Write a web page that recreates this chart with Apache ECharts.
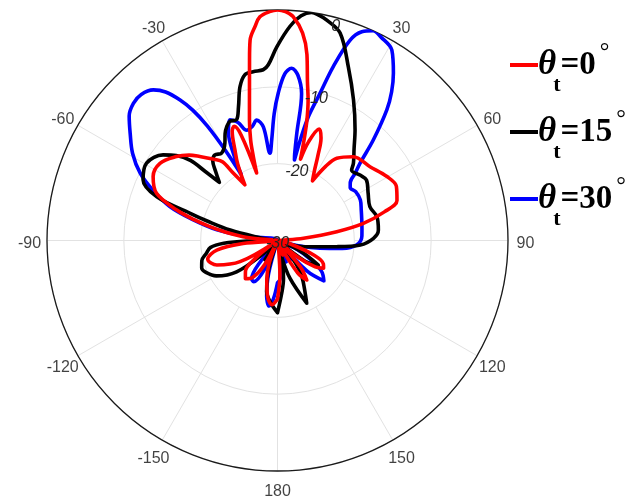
<!DOCTYPE html>
<html>
<head>
<meta charset="utf-8">
<script src="https://cdn.jsdelivr.net/npm/echarts@6/dist/echarts.min.js"></script>
<style>html,body{margin:0;padding:0;background:#fff}#c{width:643px;height:501px}</style>
</head>
<body>
<div id="c"></div>
<script>
// ---- data (angle in degrees, gain in dB) ----
const seriesNames = ['θt=0°', 'θt=15°', 'θt=30°'];
const steerLabels = ['0', '15', '30'];
const angleTicks = [-150, -120, -90, -60, -30, 0, 30, 60, 90, 120, 150, 180];
const radialTicks = [-30, -20, -10, 0];

const redAngle = [-180,-175,-170,-165,-160,-156,-152,-146,-140,-134,-129,-124,-119.5,-112,-105,-99,-95,-92,-88,-85,-83.7,-81,-78.4,-76,-73.2,-68.7,-62.8,-56.7,-50.3,-46,-42.8,-38,-35,-33.3,-30.4,-27.5,-25.2,-22.5,-20.8,-19,-17.2,-16,-15,-13.1,-11.7,-10.4,-8.8,-7.8,-6,-4.5,-2,0,2,4,6.9,9,10.7,12.3,13.8,14.8,15.8,17.5,20.5,23,25.5,28,30.4,33,35.8,42.1,51.4,59.7,65.5,71.5,75,78.7,81.5,85,88,90,100,106,112,117,121,125,129,134,139,143.5,148,153,160,166,172,176,180];
const redDb = [-22.4,-21.6,-22.6,-24.6,-26.8,-30,-26.5,-24.2,-23.5,-24.2,-26.3,-29.5,-24.4,-21.5,-20.6,-22.0,-25.5,-30,-30,-27.5,-25.5,-23.2,-21.0,-18.8,-16.3,-13.1,-11.8,-11.7,-12.9,-14.0,-15.1,-16.6,-17.5,-19.5,-21.6,-18.8,-17.0,-14.6,-14.1,-15.5,-20.8,-18.5,-16.5,-13.9,-12.0,-9.8,-6.2,-3.7,-2.0,-0.8,-0.2,0,-0.2,-0.8,-2.8,-5.5,-9,-11.3,-14,-16.5,-19.0,-16.5,-14.5,-15.5,-17.8,-19.8,-21.0,-18.5,-16.8,-15.3,-14.6,-13.5,-13.0,-13.6,-15.6,-18.6,-22.2,-26.6,-29.5,-30,-30,-28,-24.8,-23.3,-23.0,-24,-26.5,-30,-25.5,-23.6,-25,-29,-28,-30,-29,-25.5,-22.4];

const blackAngle = [-180,-174,-168,-163,-158,-153,-147,-142,-137,-133,-127.4,-120,-114,-110,-105,-100.2,-96,-93,-91,-89,-85,-82,-77.5,-74.5,-72.7,-70.1,-65.7,-59.4,-53.2,-50,-47.4,-46.3,-45,-42,-39,-36.2,-32.6,-28.4,-26.1,-24.1,-21.8,-18.7,-16.3,-13.7,-11.1,-8.2,-4.8,-3.0,-0.2,3.3,6,8.5,10.5,12.6,16.8,22.2,28.4,35.0,40,44.5,46.5,51.6,55.8,62.5,69.9,76.5,84.1,88.7,93.1,96,103.5,108,114,121,127,133,140,144,148,155,161.7,166,171,175,180];
const blackDb = [-20.6,-21.8,-23.2,-26,-30,-30,-27,-30,-30,-27.5,-23.3,-20.8,-19.8,-19.5,-19.8,-20.6,-21.2,-23,-26,-30,-29,-28,-23.7,-20.5,-18.1,-13.3,-10.8,-10.2,-11.4,-12.8,-14.6,-17.0,-19.3,-18,-16.6,-16.2,-16.5,-15.6,-14.5,-13.8,-13.3,-13.4,-11.9,-9.4,-8.0,-7.8,-7.7,-7.1,-4.8,-2.1,-0.6,0,-0.2,-0.6,-1.8,-5.6,-9.2,-12.4,-14.5,-15.9,-16.7,-16.3,-16.0,-16.7,-17.2,-16.7,-16.8,-17.5,-19.2,-22.3,-26.5,-30,-27,-23.8,-25.5,-30,-27,-25,-23.7,-21.0,-24.8,-28,-25,-23.3,-20.6];

const blueAngle = [-180,-176,-172.7,-169,-165,-161,-156,-150,-146,-141,-137,-92,-86,-82.5,-80,-76,-72.5,-68,-63.9,-59,-54,-50,-46.4,-43,-39.5,-37,-34.8,-33,-31.5,-30,-28.8,-27,-24.5,-21.5,-18.5,-15.6,-12.5,-9.8,-7.1,-4.9,-3.3,-1.5,0.3,2.5,4.7,7,9.3,10.2,11.2,11.9,12.8,14,16.1,17.8,19.9,22,24.5,27,31,34.7,37.5,39.9,43.6,46.9,49.1,51.5,54,58,64,70,76,82,87,93.3,97,100.4,104,108,114,120,125,131,136,140,146,151,158,163,170,176,180];
const blueDb = [-24.5,-22.4,-21.4,-22.6,-25.5,-30,-26,-23.8,-24,-26.5,-30,-30,-30,-26,-22,-18.5,-15.3,-12.5,-10.1,-8.0,-6.3,-4.8,-4.1,-4.0,-4.6,-5.8,-7.7,-9.8,-12.5,-16.5,-20.2,-17.5,-14.6,-13.1,-13.8,-15.1,-14.8,-14.1,-15.1,-18.6,-16.9,-13.5,-10.8,-8.3,-7.5,-8.3,-10.6,-15.8,-18.5,-19.3,-16.5,-13.4,-10.1,-6.2,-2.3,-0.7,0,-0.3,-1.1,-3.5,-5.6,-7.8,-11.9,-15.3,-16.6,-17.9,-18.3,-18.0,-18.0,-18.4,-18.7,-18.9,-19.0,-19.7,-21.5,-24.4,-27,-30,-27.5,-25,-23,-22.0,-24.5,-30,-27,-30,-27,-30,-28,-25,-24.5];

const colors = ['#ff0000', '#000000', '#0000ff'];

// ---- build ----
function pairs(ang, db) { return ang.map((a, i) => [Math.max(db[i], -30), a]); }
const allData = [pairs(redAngle, redDb), pairs(blackAngle, blackDb), pairs(blueAngle, blueDb)];

const CX = 277.5, CY = 240.5, R = 230.5;
const R20 = R / 3;
const LABEL_R = 248;
const gridColor = '#e2e2e2';
const sansFont = 'Liberation Sans, Arial, sans-serif';
const serifFont = 'Liberation Serif, Times New Roman, serif';

const chart = echarts.init(document.getElementById('c'), null, {renderer: 'canvas'});
const drawOrder = [2, 1, 0];
const lineSeries = drawOrder.map(i => ({
  name: seriesNames[i], type: 'line', coordinateSystem: 'polar', polarIndex: 0,
  data: allData[i], showSymbol: false, symbol: 'none', smooth: 0.35,
  lineStyle: {color: colors[i], width: 3.6, cap: 'round', join: 'round'},
  itemStyle: {color: colors[i]}, z: 3 + (2 - i)
}));
const tickLabelSeries = {
  type: 'scatter', coordinateSystem: 'polar', polarIndex: 3, silent: true,
  symbolSize: 0, z: 8,
  data: angleTicks.map(a => [1, a]),
  label: {
    show: true, position: 'inside', fontSize: 16, color: '#111', fontFamily: sansFont,
    formatter: p => String(p.value[1])
  }
};

const option = {
  animation: false,
  backgroundColor: '#fff',
  polar: [
    {center: [CX, CY], radius: [0, R]},
    {center: [CX, CY], radius: [R20, R]},
    {center: [CX, CY + 3], radius: [0, R - 6]},
    {center: [CX, CY + 3], radius: [0, LABEL_R]}
  ],
  angleAxis: [
    {
      polarIndex: 0, type: 'value', min: -180, max: 180, interval: 30,
      startAngle: 270, clockwise: true,
      axisLine: {show: true, lineStyle: {color: '#1a1a1a', width: 1.3}},
      axisTick: {show: false}, splitLine: {show: false}, axisLabel: {show: false},
      z: 1
    },
    {
      polarIndex: 1, type: 'value', min: -180, max: 180, interval: 30,
      startAngle: 270, clockwise: true,
      axisLine: {show: false}, axisTick: {show: false}, axisLabel: {show: false},
      splitLine: {show: true, lineStyle: {color: gridColor, width: 1}}
    },
    {polarIndex: 2, type: 'value', min: 0, max: 360, startAngle: 75, show: false},
    {polarIndex: 3, type: 'value', min: -180, max: 180, startAngle: 270, clockwise: true, show: false}
  ],
  radiusAxis: [
    {
      polarIndex: 0, type: 'value', min: radialTicks[0], max: radialTicks[radialTicks.length - 1], interval: 10,
      axisLine: {show: false}, axisTick: {show: false}, axisLabel: {show: false},
      splitLine: {show: true, lineStyle: {color: gridColor, width: 1}}
    },
    {polarIndex: 1, type: 'value', min: -20, max: 0, show: false},
    {
      polarIndex: 2, type: 'value', min: radialTicks[0], max: radialTicks[radialTicks.length - 1], interval: 10,
      axisLine: {show: false}, axisTick: {show: false}, splitLine: {show: false},
      axisLabel: {
        show: true, margin: 0, fontSize: 16, fontStyle: 'italic', color: '#262626',
        fontFamily: sansFont, align: 'center', verticalAlign: 'middle'
      },
      z: 10
    },
    {polarIndex: 3, type: 'value', min: 0, max: 1, show: false}
  ],
  legend: {
    orient: 'vertical', left: 505, top: 29, itemGap: 5,
    itemWidth: 28, itemHeight: 4, icon: 'rect',
    data: seriesNames.map((n, i) => ({name: n, itemStyle: {color: colors[i]}})),
    formatter: function (name) {
      const k = steerLabels[seriesNames.indexOf(name)];
      return '{th|θ}{sub|t}{b|=' + k + '}{deg|°}';
    },
    textStyle: {
      fontFamily: serifFont,
      rich: {
        th: {fontFamily: serifFont, fontStyle: 'italic', fontWeight: 'bold', fontSize: 35, lineHeight: 62, verticalAlign: 'middle', color: '#000', padding: [0, 0, 0, -5]},
        sub: {fontFamily: serifFont, fontWeight: 'bold', fontSize: 22, lineHeight: 16, verticalAlign: 'bottom', color: '#000', padding: [0, 0, 0, -3]},
        b: {fontFamily: serifFont, fontWeight: 'bold', fontSize: 33, lineHeight: 62, verticalAlign: 'middle', color: '#000'},
        deg: {fontFamily: serifFont, fontSize: 24, lineHeight: 30, verticalAlign: 'top', color: '#000', padding: [7, 0, 0, 4]}
      }
    }
  },
  series: lineSeries.concat([tickLabelSeries])
};
chart.setOption(option);
</script>
</body>
</html>
